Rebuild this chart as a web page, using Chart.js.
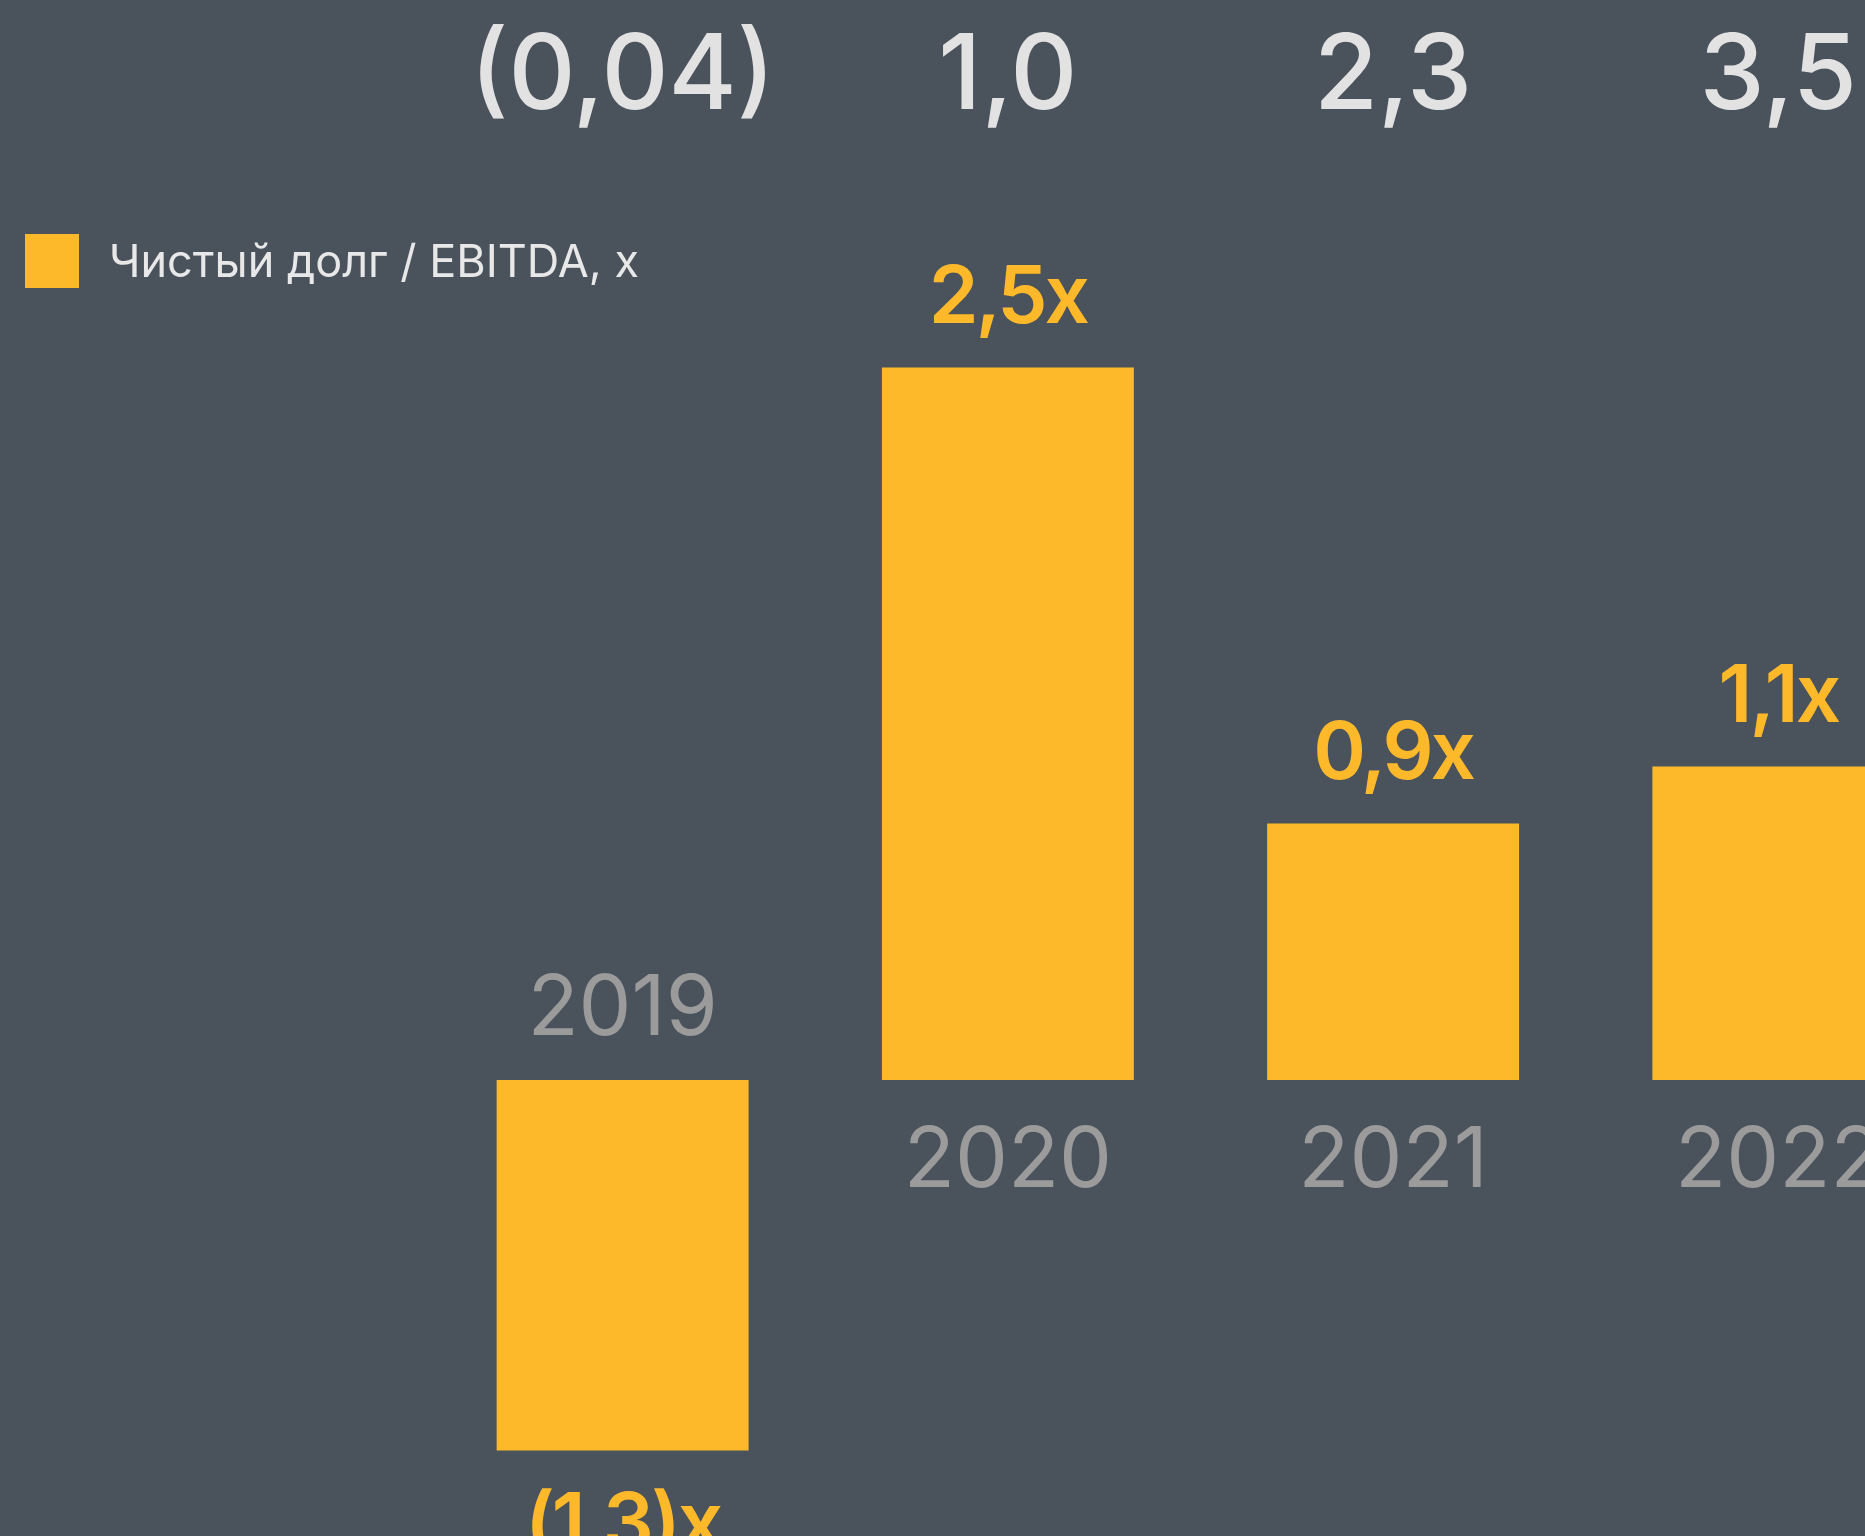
<!DOCTYPE html>
<html><head><meta charset="utf-8">
<script src="https://cdn.jsdelivr.net/npm/chart.js@4"></script>
<style>
html,body{margin:0;padding:0;background:#4A525C;overflow:hidden;}
#wrap{position:relative;width:1865px;height:1536px;overflow:hidden;background:#4A525C;}
#box{position:absolute;left:0;top:0;width:2000px;height:1536px;}
</style></head><body>
<div id="wrap"><div id="box"><canvas id="c" width="2000" height="1536"></canvas></div></div>
<script>
// ---- data ----
const years = ['2019', '2020', '2021', '2022'];
const debtToEbitda = [-1.3, 2.5, 0.9, 1.1];        // Чистый долг / EBITDA, х
const netDebt = [-0.04, 1.0, 2.3, 3.5];             // верхний ряд
const seriesLabel = 'Чистый долг / EBITDA, х';

const YELLOW = '#FEB92B';
const FONT = 'Inter, "Liberation Sans", sans-serif';

function fmtNum(v) {
  const a = Math.abs(v);
  let s = (Math.round(a * 100) % 10 !== 0) ? a.toFixed(2) : a.toFixed(1);
  s = s.replace('.', ',');
  return v < 0 ? '(' + s + ')' : s;
}

const overlay = {
  id: 'overlay',
  afterDatasetsDraw(chart) {
    const ctx = chart.ctx;
    const meta = chart.getDatasetMeta(0);
    ctx.save();
    ctx.textAlign = 'center';
    ctx.textBaseline = 'alphabetic';
    meta.data.forEach((bar, i) => {
      const v = debtToEbitda[i];
      const x = bar.x;
      const end = bar.y, base = bar.base;
      // value label
      ctx.font = '600 80px ' + FONT;
      ctx.letterSpacing = '-3px';
      ctx.fillStyle = YELLOW;
      const vc = v >= 0 ? end - 74 : end + 70;
      ctx.fillText(fmtNum(v) + 'x', x, vc + 29);
      ctx.letterSpacing = '0px';
      // year label
      ctx.font = '400 84px ' + FONT;
      ctx.fillStyle = '#9B9B9B';
      const yc = v >= 0 ? base + 76 : base - 76;
      ctx.fillText(years[i], x, yc + 30.5);
      // top row
      ctx.font = '500 104px ' + FONT;
      ctx.fillStyle = '#E2E2E2';
      ctx.fillText(fmtNum(netDebt[i]), x, 109);
    });
    // legend
    ctx.fillStyle = YELLOW;
    ctx.fillRect(25, 234, 54, 54);
    ctx.font = '400 45px ' + FONT;
    ctx.fillStyle = '#E8E8E8';
    ctx.textAlign = 'left';
    ctx.fillText(chart.data.datasets[0].label, 109, 277);
    ctx.restore();
  }
};

new Chart(document.getElementById('c'), {
  type: 'bar',
  data: {
    labels: years,
    datasets: [{
      label: seriesLabel,
      data: debtToEbitda,
      backgroundColor: YELLOW,
      borderWidth: 0,
      barPercentage: 0.654,
      categoryPercentage: 1.0
    }]
  },
  options: {
    responsive: false,
    devicePixelRatio: 1,
    animation: false,
    layout: { padding: { left: 430, right: 29, top: 0, bottom: 0 } },
    scales: {
      x: { display: false },
      y: { display: false, min: -1.6, max: 3.79 }
    },
    plugins: { legend: { display: false }, tooltip: { enabled: false } }
  },
  plugins: [overlay]
});
</script>
</body></html>
